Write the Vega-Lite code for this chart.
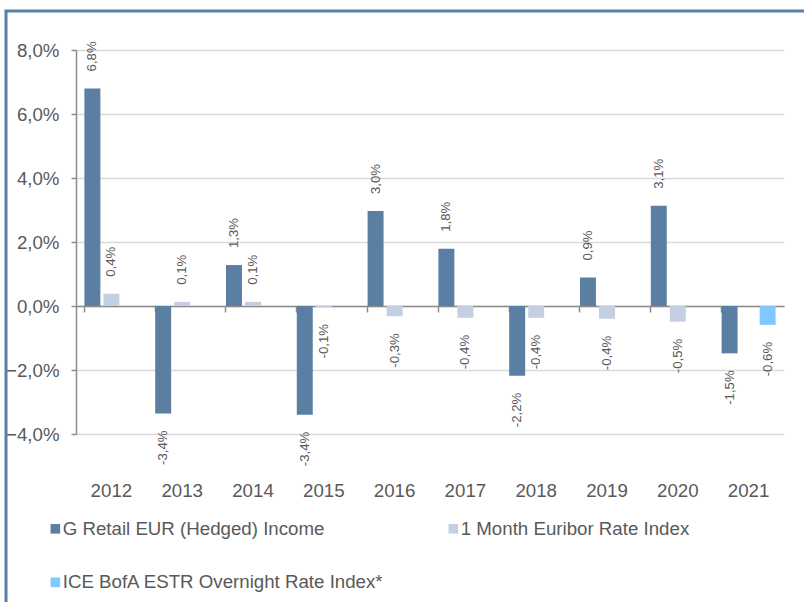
{
  "$schema": "https://vega.github.io/schema/vega-lite/v6.json",
  "width": 708,
  "height": 384,
  "autosize": {"type": "none"},
  "padding": {"left": 76, "top": 50, "right": 20, "bottom": 168},
  "background": "white",
  "config": {
    "view": {"stroke": null},
    "font": "Liberation Sans",
    "axis": {"labelFont": "Liberation Sans", "labelFontSize": 18.7, "labelColor": "#595959", "domainColor": "#8C8C8C", "tickColor": "#8C8C8C"},
    "legend": {"labelFont": "Liberation Sans", "titleFont": "DejaVu Sans"}
  },
  "data": {
    "values": [
      {"year": "2012", "series": "G Retail EUR (Hedged) Income", "value": 6.8, "label": "6,8%"},
      {"year": "2013", "series": "G Retail EUR (Hedged) Income", "value": -3.36, "label": "-3,4%"},
      {"year": "2014", "series": "G Retail EUR (Hedged) Income", "value": 1.28, "label": "1,3%"},
      {"year": "2015", "series": "G Retail EUR (Hedged) Income", "value": -3.4, "label": "-3,4%"},
      {"year": "2016", "series": "G Retail EUR (Hedged) Income", "value": 2.97, "label": "3,0%"},
      {"year": "2017", "series": "G Retail EUR (Hedged) Income", "value": 1.79, "label": "1,8%"},
      {"year": "2018", "series": "G Retail EUR (Hedged) Income", "value": -2.18, "label": "-2,2%"},
      {"year": "2019", "series": "G Retail EUR (Hedged) Income", "value": 0.89, "label": "0,9%"},
      {"year": "2020", "series": "G Retail EUR (Hedged) Income", "value": 3.13, "label": "3,1%"},
      {"year": "2021", "series": "G Retail EUR (Hedged) Income", "value": -1.48, "label": "-1,5%"},
      {"year": "2012", "series": "1 Month Euribor Rate Index", "value": 0.38, "label": "0,4%"},
      {"year": "2013", "series": "1 Month Euribor Rate Index", "value": 0.13, "label": "0,1%"},
      {"year": "2014", "series": "1 Month Euribor Rate Index", "value": 0.13, "label": "0,1%"},
      {"year": "2015", "series": "1 Month Euribor Rate Index", "value": -0.03, "label": "-0,1%"},
      {"year": "2016", "series": "1 Month Euribor Rate Index", "value": -0.32, "label": "-0,3%"},
      {"year": "2017", "series": "1 Month Euribor Rate Index", "value": -0.37, "label": "-0,4%"},
      {"year": "2018", "series": "1 Month Euribor Rate Index", "value": -0.37, "label": "-0,4%"},
      {"year": "2019", "series": "1 Month Euribor Rate Index", "value": -0.4, "label": "-0,4%"},
      {"year": "2020", "series": "1 Month Euribor Rate Index", "value": -0.49, "label": "-0,5%"},
      {"year": "2021", "series": "ICE BofA ESTR Overnight Rate Index*", "value": -0.59, "label": "-0,6%"}
    ]
  },
  "encoding": {
    "y": {
      "field": "value", "type": "quantitative",
      "scale": {"domain": [-4, 8], "nice": false},
      "axis": {"values": [-4, -2, 0, 2, 4, 6, 8], "labelExpr": "replace(format(datum.value, '.1f'), '.', ',') + '%'", "title": null, "grid": true, "gridColor": "#D9D9D9", "gridWidth": 1.5, "tickSize": 5, "labelPadding": 12, "domainWidth": 1.5, "tickWidth": 1.5}
    },
    "xOffset": {
      "field": "series", "type": "nominal",
      "scale": {"domain": ["G Retail EUR (Hedged) Income", "1 Month Euribor Rate Index", "ICE BofA ESTR Overnight Rate Index*"], "paddingInner": 0.16}
    }
  },
  "layer": [
    {
      "mark": {"type": "bar"},
      "encoding": {
        "x": {
          "field": "year", "type": "nominal",
          "scale": {"paddingInner": 0.237, "paddingOuter": 0.1185},
          "axis": {"orient": "bottom", "offset": -128, "labels": false, "title": null, "bandPosition": 0, "tickSize": 6, "domainWidth": 1.5, "tickWidth": 1.5, "grid": false}
        },
        "color": {
          "field": "series", "type": "nominal",
          "scale": {"domain": ["G Retail EUR (Hedged) Income", "ICE BofA ESTR Overnight Rate Index*", "1 Month Euribor Rate Index"], "range": ["#5B7FA3", "#80C9FF", "#C4D0E2"]},
          "legend": {
            "orient": "none", "legendX": -70, "legendY": -39, "padding": 40,
            "strokeColor": "#5B7FA6", "cornerRadius": 0,
            "title": "\u2800\u2800\u2800\u2800\u2800\u2800\u2800\u2800\u2800\u2800\u2800\u2800\u2800\u2800\u2800\u2800\u2800\u2800\u2800\u2800\u2800\u2800\u2800\u2800\u2800\u2800\u2800\u2800\u2800\u2800\u2800\u2800\u2800\u2800\u2800\u2800\u2800\u2800\u2800\u2800\u2800\u2800\u2800\u2800\u2800\u2800\u2800\u2800\u2800\u2800\u2800\u2800\u2800\u2800\u2800\u2800\u2800\u2800\u2800\u2800\u2800\u2800\u2800\u2800\u2800\u2800\u2800\u2800\u2800\u2800\u2800\u2800\u2800\u2800\u2800\u2800\u2800\u2800\u2800\u2800\u2800\u2800\u2800\u2800\u2800\u2800\u2800\u2800\u2800\u2800\u2800\u2800\u2800\u2800\u2800\u2800",
            "titleFontSize": 10, "titleLimit": 3000, "titlePadding": 458, "titleOpacity": 0, "titleColor": "#FFFFFF",
            "columns": 2, "columnPadding": 60, "rowPadding": 34,
            "symbolType": "square", "symbolSize": 92, "symbolStrokeWidth": 0,
            "labelFontSize": 18.7, "labelColor": "#595959", "labelOffset": -2, "labelLimit": 600,
            "encode": {"legend": {"update": {"strokeWidth": {"value": 3}}}}
          }
        }
      }
    },
    {
      "transform": [{"filter": "datum.value >= 0"}],
      "mark": {"type": "text", "angle": 270, "align": "left", "baseline": "middle", "dx": 17, "fontSize": 13.2, "color": "#595959", "font": "Liberation Sans"},
      "encoding": {
        "x": {
          "field": "year", "type": "nominal",
          "axis": {"orient": "bottom", "title": null, "domain": false, "ticks": false, "tickSize": 0, "labelPadding": 47, "labelAngle": 0, "grid": false}
        },
        "text": {"field": "label"}
      }
    },
    {
      "transform": [{"filter": "datum.value < 0"}],
      "mark": {"type": "text", "angle": 270, "align": "right", "baseline": "middle", "dx": -17, "fontSize": 13.2, "color": "#595959", "font": "Liberation Sans"},
      "encoding": {
        "x": {"field": "year", "type": "nominal", "axis": null},
        "text": {"field": "label"}
      }
    }
  ],
  "resolve": {"axis": {"x": "independent"}}
}
